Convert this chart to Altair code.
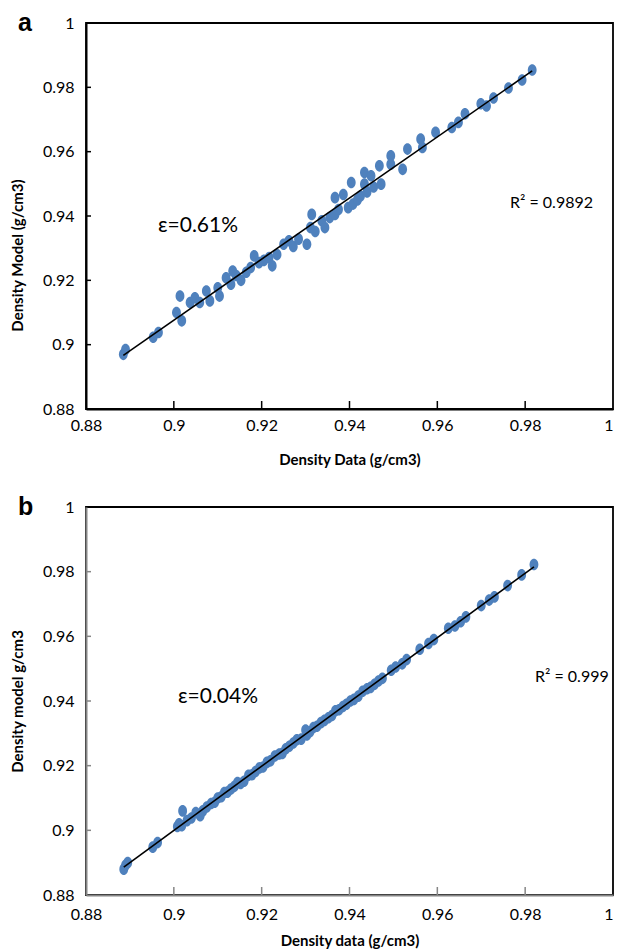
import altair as alt
import pandas as pd

# ---------------- data ----------------
A_DATA = [0.8885, 0.8890, 0.8953, 0.8965, 0.9006, 0.9014, 0.9018, 0.9037, 0.9048, 0.9059,
          0.9074, 0.9082, 0.9100, 0.9104, 0.9119, 0.9130, 0.9134, 0.9142, 0.9153, 0.9165,
          0.9175, 0.9183, 0.9194, 0.9205, 0.9217, 0.9224, 0.9235, 0.9250, 0.9262, 0.9272,
          0.9284, 0.9303, 0.9311, 0.9314, 0.9322, 0.9337, 0.9344, 0.9355, 0.9367, 0.9367,
          0.9375, 0.9386, 0.9397, 0.9404, 0.9408, 0.9418, 0.9425, 0.9434, 0.9434, 0.9440,
          0.9449, 0.9455, 0.9468, 0.9472, 0.9494, 0.9494, 0.9521, 0.9532, 0.9562, 0.9566,
          0.9596, 0.9633, 0.9648, 0.9663, 0.9699, 0.9712, 0.9728, 0.9762, 0.9793, 0.9816]
A_MODEL = [0.8970, 0.8985, 0.9023, 0.9038, 0.9100, 0.9151, 0.9074, 0.9131, 0.9146, 0.9131,
           0.9167, 0.9136, 0.9177, 0.9151, 0.9208, 0.9188, 0.9229, 0.9215, 0.9200, 0.9225,
           0.9240, 0.9276, 0.9255, 0.9262, 0.9271, 0.9245, 0.9280, 0.9312, 0.9323, 0.9305,
           0.9328, 0.9312, 0.9364, 0.9405, 0.9352, 0.9385, 0.9364, 0.9395, 0.9405, 0.9457,
           0.9420, 0.9467, 0.9426, 0.9504, 0.9437, 0.9450, 0.9462, 0.9535, 0.9499, 0.9475,
           0.9525, 0.9490, 0.9556, 0.9499, 0.9587, 0.9561, 0.9545, 0.9608, 0.9639, 0.9613,
           0.9660, 0.9675, 0.9691, 0.9718, 0.9749, 0.9742, 0.9767, 0.9798, 0.9823, 0.9854]

B_DATA = [0.8886, 0.8890, 0.8895, 0.8952, 0.8963, 0.9008, 0.9012, 0.9020, 0.9018, 0.9030,
          0.9040, 0.9050, 0.9060, 0.9066, 0.9075, 0.9085, 0.9093, 0.9100, 0.9108, 0.9115,
          0.9122, 0.9130, 0.9138, 0.9145, 0.9152, 0.9160, 0.9170, 0.9178, 0.9186, 0.9195,
          0.9203, 0.9212, 0.9220, 0.9230, 0.9240, 0.9247, 0.9255, 0.9263, 0.9272, 0.9280,
          0.9290, 0.9300, 0.9303, 0.9310, 0.9318, 0.9326, 0.9335, 0.9343, 0.9352, 0.9360,
          0.9368, 0.9376, 0.9385, 0.9393, 0.9402, 0.9410, 0.9420, 0.9430, 0.9440, 0.9448,
          0.9457, 0.9466, 0.9475, 0.9495, 0.9505, 0.9520, 0.9530, 0.9560, 0.9580, 0.9592,
          0.9625, 0.9640, 0.9653, 0.9665, 0.9700, 0.9718, 0.9730, 0.9760, 0.9792, 0.9820]
B_MODEL = [0.8880, 0.8892, 0.8900, 0.8948, 0.8962, 0.9012, 0.9020, 0.9060, 0.9014, 0.9030,
           0.9038, 0.9055, 0.9045, 0.9060, 0.9072, 0.9083, 0.9087, 0.9100, 0.9104, 0.9117,
           0.9118, 0.9128, 0.9136, 0.9148, 0.9145, 0.9152, 0.9170, 0.9172, 0.9182, 0.9193,
           0.9196, 0.9210, 0.9215, 0.9230, 0.9236, 0.9238, 0.9252, 0.9260, 0.9270, 0.9280,
           0.9282, 0.9310, 0.9295, 0.9305, 0.9318, 0.9322, 0.9333, 0.9340, 0.9348, 0.9355,
           0.9370, 0.9373, 0.9383, 0.9390, 0.9400, 0.9405, 0.9415, 0.9430, 0.9438, 0.9442,
           0.9452, 0.9462, 0.9470, 0.9495, 0.9505, 0.9515, 0.9528, 0.9560, 0.9578, 0.9590,
           0.9625, 0.9632, 0.9645, 0.9660, 0.9695, 0.9712, 0.9722, 0.9757, 0.9790, 0.9822]

TICKS = [0.88, 0.90, 0.92, 0.94, 0.96, 0.98, 1.00]
INNER_Y_TICKS = [0.90, 0.92, 0.94, 0.96, 0.98]
INNER_X_TICKS = [0.90, 0.92, 0.94, 0.96, 0.98]

FONT = "Lato"
BLUE = "#4F81BD"
ELLIPSE = ("M 0.76 0 C 0.76 0.5523 0.4197 1 0 1 C -0.4197 1 -0.76 0.5523 -0.76 0 "
           "C -0.76 -0.5523 -0.4197 -1 0 -1 C 0.4197 -1 0.76 -0.5523 0.76 0 Z")

W = 527


def panel(xs, ys, xtitle, ytitle, letter, eps, r2, axis_color, h,
          ytitle_y, xtitle_y, xlabel_pad, eps_pos, r2_pos):
    df = pd.DataFrame({"x": xs, "y": ys})
    dom = [0.88, 1.0]
    xscale = alt.Scale(domain=dom, nice=False, zero=False)
    yscale = alt.Scale(domain=dom, nice=False, zero=False)
    xaxis = alt.Axis(values=TICKS, format="~g", grid=False, ticks=False, tickSize=0,
                     domainColor=axis_color, domainWidth=2, labelFont=FONT, labelFontSize=16,
                     labelColor="#000000", labelPadding=xlabel_pad, labelFlush=False,
                     labelAlign=alt.condition("datum.value >= 0.999", alt.value("right"),
                                              alt.value("center")),
                     title=xtitle, titleFont=FONT, titleFontSize=15, titleFontWeight="bold",
                     titleColor="#000000", titleY=xtitle_y, titleBaseline="middle")
    yaxis = alt.Axis(values=TICKS, format="~g", grid=False, ticks=False, tickSize=0,
                     domainColor=axis_color, domainWidth=2, labelFont=FONT, labelFontSize=16,
                     labelColor="#000000", labelPadding=12, labelFlush=False,
                     title=ytitle, titleFont=FONT, titleFontSize=15, titleFontWeight="bold",
                     titleColor="#000000", titleX=-68.5, titleY=ytitle_y,
                     titleBaseline="middle", titleAngle=270)

    points = alt.Chart(df).mark_point(
        shape=ELLIPSE, filled=True, color=BLUE, opacity=1, size=135, strokeWidth=0
    ).encode(
        x=alt.X("x:Q", scale=xscale, axis=xaxis),
        y=alt.Y("y:Q", scale=yscale, axis=yaxis),
    )
    trend = alt.Chart(df).transform_regression("x", "y").mark_line(
        color="black", strokeWidth=1.6
    ).encode(x="x:Q", y="y:Q")

    ydf = pd.DataFrame({"t": INNER_Y_TICKS})
    xdf = pd.DataFrame({"t": INNER_X_TICKS})
    yt = alt.Chart(ydf).mark_rule(color=axis_color, strokeWidth=1.5).encode(
        y="t:Q", x=alt.value(0), x2=alt.value(5))
    xt = alt.Chart(xdf).mark_rule(color=axis_color, strokeWidth=1.5).encode(
        x="t:Q", y=alt.value(h), y2=alt.value(h - 8))

    ann = pd.DataFrame({"l": [letter]})
    letter_t = alt.Chart(ann).mark_text(
        font="Liberation Sans", fontSize=25, fontWeight="bold", align="left",
        baseline="alphabetic", color="black"
    ).encode(text="l:N", x=alt.value(-68), y=alt.value(8))
    eps_t = alt.Chart(pd.DataFrame({"l": [eps]})).mark_text(
        font=FONT, fontSize=21, align="left", baseline="middle", color="black"
    ).encode(text="l:N", x=alt.value(eps_pos[0]), y=alt.value(eps_pos[1]))
    r2_t = alt.Chart(pd.DataFrame({"l": [r2]})).mark_text(
        font=FONT, fontSize=16, align="left", baseline="middle", color="black"
    ).encode(text="l:N", x=alt.value(r2_pos[0]), y=alt.value(r2_pos[1]))

    return alt.layer(points, trend, yt, xt, letter_t, eps_t, r2_t).properties(
        width=W, height=h,
        view=alt.ViewBackground(stroke="black", strokeWidth=1.8, fill="white"),
    )


pa = panel(A_DATA, A_MODEL, "Density Data (g/cm3)", "Density Model (g/cm3)", "a",
           "ε=0.61%", "R² = 0.9892", "#000000", 386,
           ytitle_y=232, xtitle_y=50, xlabel_pad=8,
           eps_pos=(72, 203), r2_pos=(424, 180))
pb = panel(B_DATA, B_MODEL, "Density data (g/cm3)", "Density model g/cm3", "b",
           "ε=0.04%", "R² = 0.999", "#868686", 388,
           ytitle_y=194, xtitle_y=45, xlabel_pad=11,
           eps_pos=(92, 190), r2_pos=(449, 170))

chart = alt.vconcat(pa, pb, spacing=26).properties(
    padding={"left": 1, "top": 2, "right": 0, "bottom": 0},
    background="white",
)

chart.save("out.html", embed_options={"renderer": "svg", "actions": False})
